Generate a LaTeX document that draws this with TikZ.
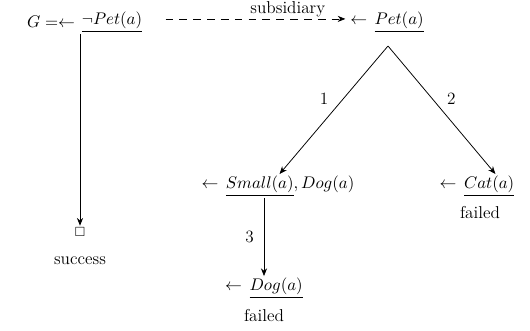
\documentclass[tikz,border=0pt]{standalone}
\usepackage{amsmath, amssymb}
\usepackage{tikz}
\usetikzlibrary{arrows.meta, positioning, calc}

\begin{document}
\begin{tikzpicture}[x=0.65pt, y=-0.65pt, font=\fontsize{11.2}{13}\selectfont,
    goal/.style={inner sep=1pt},
    arr/.style={-{Stealth[length=5pt, width=4pt]}, line width=0.5pt}]
    \useasboundingbox (0,0) rectangle (530,330);
    % top line
    \node[goal] (root) at (112,22) {$\underline{\neg Pet(a)}$};
    \node[goal, left=2pt of root] (gname) {$G = \leftarrow$};
    \node[goal] (pet) at (387,22) {$\leftarrow\,\underline{Pet(a)}$};
    \coordinate (dstart) at ([xshift=14pt, yshift=2pt]root.east);
    \draw[arr, dashed, dash pattern=on 5pt off 4pt] (dstart) -- ([xshift=-2pt]dstart -| pet.west)
        node[above=1pt, inner sep=0pt, pos=0.68] (sublab) {subsidiary};
    % success branch
    \node[goal] (sq) at (80,232) {$\scriptstyle\square$};
    \node[goal] (success) at (80,261) {success};
    \draw[arr] (root.south -| sq) -- (sq.north);
    % subsidiary tree
    \coordinate (apex) at (388,46);
    \node[goal] (small) at (278,186) {$\leftarrow\,\underline{Small(a)}, Dog(a)$};
    \node[goal] (cat) at (477,186) {$\leftarrow\,\underline{Cat(a)}$};
    \node[goal] (catfail) at (480,213) {failed};
    \node[goal] (dog) at (264,288) {$\leftarrow\,\underline{Dog(a)}$};
    \node[goal] (dogfail) at (264,316) {failed};
    \draw[arr] (apex) -- ([xshift=1pt]small.north) node[midway, above left=0pt] {1};
    \draw[arr] (apex) -- ([xshift=12pt]cat.north) node[midway, above right=0pt] {2};
    \draw[arr] (small.south -| dog.north) -- (dog.north) node[midway, left=3pt] {3};
\end{tikzpicture}
\end{document}
